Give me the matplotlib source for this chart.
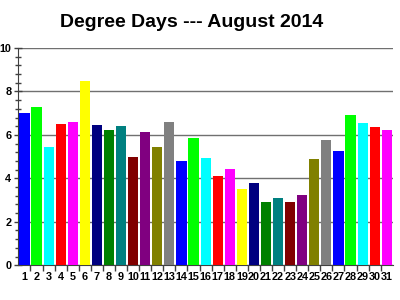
import matplotlib
matplotlib.use("Agg")
import matplotlib.pyplot as plt
from matplotlib.ticker import MultipleLocator, FixedLocator

days = list(range(1, 32))
values = [7.0, 7.3, 5.43, 6.49, 6.6, 8.5, 6.46, 6.21, 6.43, 5.0,
          6.12, 5.43, 6.6, 4.8, 5.87, 4.94, 4.12, 4.43, 3.5, 3.77,
          2.93, 3.08, 2.93, 3.25, 4.88, 5.77, 5.27, 6.92, 6.55, 6.35, 6.24]
palette = ["#0000FF", "#00FF00", "#00FFFF", "#FF0000", "#FF00FF", "#FFFF00",
           "#000080", "#008000", "#008080", "#800000", "#800080", "#808000", "#808080"]
title = "Degree Days --- August 2014"

plt.rcParams['font.family'] = ['Liberation Sans', 'DejaVu Sans']
fig = plt.figure(figsize=(4, 3), dpi=100)
ax = fig.add_axes([0.046, 0.116, 0.936, 0.724])

colors = [palette[i % len(palette)] for i in range(len(days))]
ax.bar(days, values, width=0.84, color=colors, zorder=3)

ax.set_xlim(0.5, 31.5)
ax.set_ylim(0, 10)
ax.yaxis.set_major_locator(MultipleLocator(2))
ax.yaxis.set_minor_locator(MultipleLocator(0.4))
ax.grid(axis='y', which='major', color='#707070', linewidth=1.0, zorder=1)

ax.set_xticks(days)
ax.set_xticklabels([str(d) for d in days], fontsize=7.8, fontweight='bold')
ax.xaxis.set_minor_locator(FixedLocator([d + 0.5 for d in days[:-1]]))
ax.tick_params(axis='x', which='major', length=0, pad=5)
ax.tick_params(axis='x', which='minor', length=4, direction='out', color='#404040', width=1)
ax.tick_params(axis='y', which='major', length=6, direction='inout', color='#404040',
               labelsize=7.8, pad=2, width=1)
ax.tick_params(axis='y', which='minor', length=4, direction='inout', color='#404040', width=1)
for lab in ax.get_yticklabels():
    lab.set_fontweight('bold')

for s in ['top', 'right']:
    ax.spines[s].set_visible(False)
ax.spines['left'].set_color('#404040')
ax.spines['bottom'].set_color('#404040')

fig.text(0.48, 0.925, title, ha='center', va='center', fontsize=14, fontweight='bold')

fig.savefig("out.png", dpi=100)
